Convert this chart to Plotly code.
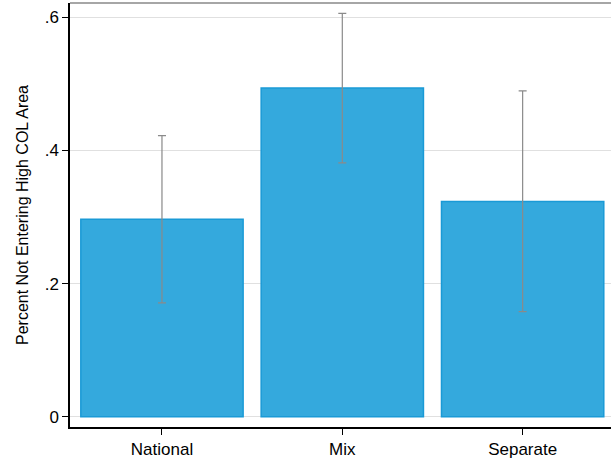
import plotly.graph_objects as go

groups = ["National", "Mix", "Separate"]
share = [0.2967, 0.4935, 0.3233]
ci_high = [0.422, 0.6055, 0.489]
ci_low = [0.171, 0.381, 0.158]

err_plus = [h - v for h, v in zip(ci_high, share)]
err_minus = [v - l for v, l in zip(share, ci_low)]

fig = go.Figure(go.Bar(
    x=[0, 1, 2], y=share, width=0.9,
    marker=dict(color="#34a9dd", line=dict(color="#1a9ad6", width=1.5)),
    error_y=dict(type="data", symmetric=False, array=err_plus, arrayminus=err_minus,
                 color="#8a8a8a", thickness=1.2, width=4),
))

fig.update_layout(
    width=611, height=459,
    margin=dict(l=70, r=0, t=3, b=22),
    paper_bgcolor="white", plot_bgcolor="white",
    font=dict(family="Liberation Sans, Arial", size=16, color="black"),
    showlegend=False,
    xaxis=dict(
        range=[-0.51, 2.49], tickvals=[0, 1, 2], ticktext=groups,
        ticks="outside", ticklen=6, tickcolor="black", tickfont=dict(size=17),
        showline=True, linecolor="black", linewidth=1.5, showgrid=False, zeroline=False,
    ),
    yaxis=dict(
        range=[-0.0152, 0.621], tickvals=[0, 0.2, 0.4, 0.6], ticktext=["0", ".2", ".4", ".6"],
        ticks="outside", ticklen=6, tickcolor="black", tickfont=dict(size=17),
        showline=True, linecolor="black", linewidth=1.5,
        showgrid=True, gridcolor="#e0e0e0", zeroline=False,
        title=dict(text="Percent Not Entering High COL Area", font=dict(size=16), standoff=12),
    ),
)
fig.add_shape(type="line", xref="paper", yref="paper", x0=0, x1=1, y0=1, y1=1,
              line=dict(color="#888888", width=1.5))

fig.write_html("out.html", config={"displayModeBar": False},
               post_script="document.body.style.margin='0';")
